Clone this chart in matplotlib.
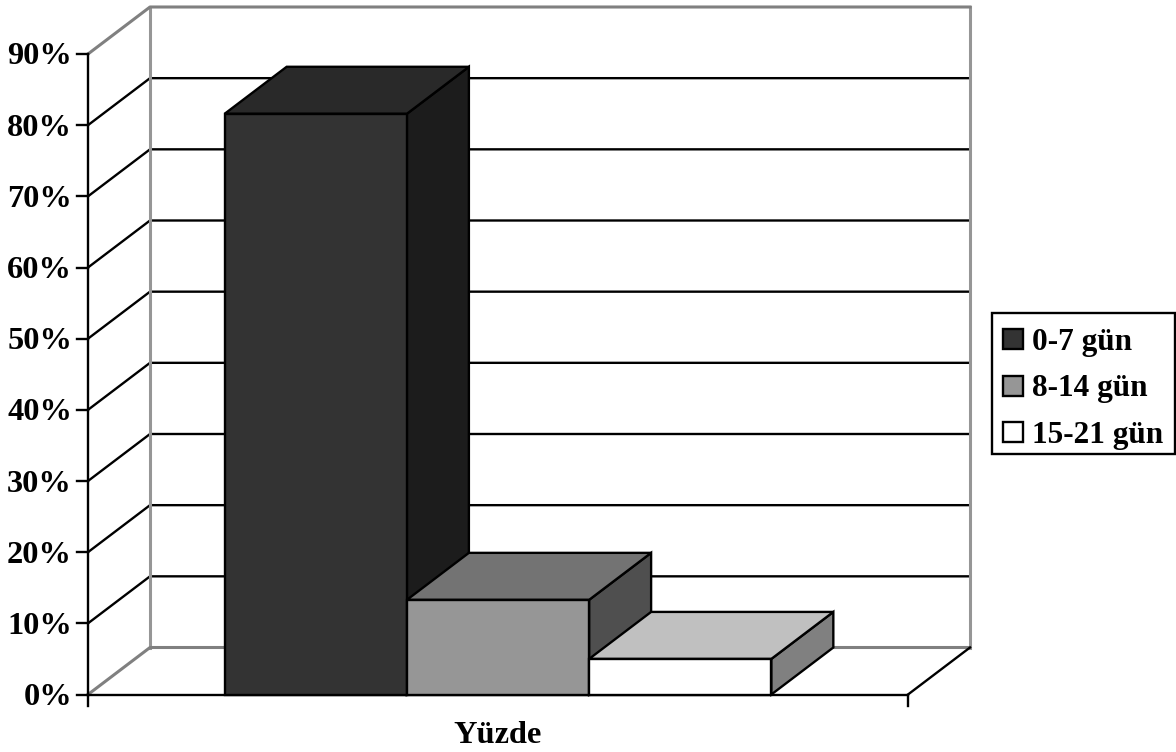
import matplotlib
matplotlib.use("Agg")
import matplotlib.pyplot as plt
from matplotlib.patches import Polygon, Rectangle
from matplotlib.transforms import offset_copy

# Share of cases per duration group
series_names = ["0-7 gün", "8-14 gün", "15-21 gün"]
series_values = [81.6, 13.3, 5.0]
front_colors = ["#333333", "#969696", "#ffffff"]
top_colors = ["#292929", "#737373", "#c0c0c0"]
side_colors = ["#1c1c1c", "#4f4f4f", "#808080"]
y_ticks = [0, 10, 20, 30, 40, 50, 60, 70, 80, 90]
category_label = "Yüzde"

W, H = 1176, 752
plt.rcParams["font.family"] = ["Liberation Serif", "DejaVu Serif"]
plt.rcParams["font.weight"] = "bold"

fig = plt.figure(figsize=(W / 100, H / 100), dpi=100)
left, right, bottom, top = 88, 908, 694.5, 54
ax = fig.add_axes([left / W, 1 - bottom / H, (right - left) / W, (bottom - top) / H])
ax.set_xlim(0, 4.5)
ax.set_ylim(0, 90)
ax.axis("off")

# Oblique depth of the 3D box in data units
dx = 62 / (right - left) * 4.5
dy = 47 / (bottom - top) * 90
x_max, y_max = 4.5, 90
lw = 1.7
GREY = "#808080"
WALL = "#969696"


def seg(xs, ys, color="black", width=lw, z=1):
    ax.plot(xs, ys, color=color, lw=width, solid_capstyle="projecting",
            clip_on=False, zorder=z)


# Gridlines on the side wall and back wall
for v in y_ticks[1:-1]:
    seg([0, dx, x_max + dx], [v, v + dy, v + dy])

# Wall outlines
seg([dx, dx], [dy, y_max + dy], WALL, 2.2, 2)
seg([x_max + dx, x_max + dx], [dy, y_max + dy], WALL, 2.2, 2)
seg([0, dx, x_max + dx], [y_max, y_max + dy, y_max + dy], GREY, 2.2, 2)
seg([0, dx, x_max + dx], [0, dy, dy], GREY, 2.2, 2)
seg([x_max, x_max + dx], [0, dy], "black", lw, 2)

# Front axis lines, ticks and percentage labels
seg([0, 0], [0, y_max], z=3)
seg([0, x_max], [0, 0], z=3)
tick_dx = 11 / (right - left) * 4.5
tick_dy = 11 / (bottom - top) * 90
label_tf = offset_copy(ax.transData, fig=fig, x=-16, y=-10.5, units="dots")
for v in y_ticks:
    seg([-tick_dx, 0], [v, v], z=3)
    ax.text(0, v, f"{v}%", ha="right", va="baseline", transform=label_tf,
            fontsize=23.3, fontweight="bold", clip_on=False)
for xv in (0, x_max):
    seg([xv, xv], [0, -tick_dy], z=3)

# Bars, drawn left to right so that each hides the one behind it
bar_w = 1.0
for i, (val, fc, tc, sc) in enumerate(zip(series_values, front_colors, top_colors, side_colors)):
    x0 = 0.75 + i * bar_w
    x1 = x0 + bar_w
    z = 5 + i
    style = dict(edgecolor="black", linewidth=lw, joinstyle="miter", clip_on=False, zorder=z)
    ax.add_patch(Polygon([(x1, 0), (x1 + dx, dy), (x1 + dx, val + dy), (x1, val)], facecolor=sc, **style))
    ax.add_patch(Polygon([(x0, val), (x1, val), (x1 + dx, val + dy), (x0 + dx, val + dy)], facecolor=tc, **style))
    ax.add_patch(Rectangle((x0, 0), bar_w, val, facecolor=fc, **style))

# Category label under the floor
fig.text(498 / W, 1 - 743 / H, category_label, ha="center", va="baseline",
         fontsize=23.3, fontweight="bold")

# Legend box, swatches and labels placed in figure pixels
fig_tf = fig.transFigure


def fx(px):
    return px / W


def fy(py):
    return 1 - py / H


fig.add_artist(Rectangle((fx(992), fy(454)), 183 / W, 141 / H, transform=fig_tf,
                         facecolor="white", edgecolor="black", linewidth=lw))
for name, color, yc in zip(series_names, front_colors, (338.5, 385.5, 432)):
    fig.add_artist(Rectangle((fx(1002.5), fy(yc + 10)), 20 / W, 20 / H, transform=fig_tf,
                             facecolor=color, edgecolor="black", linewidth=lw))
    fig.text(fx(1032.5), fy(yc + 11), name, ha="left", va="baseline", fontsize=22.5, fontweight="bold")

fig.savefig("out.png", dpi=100)
